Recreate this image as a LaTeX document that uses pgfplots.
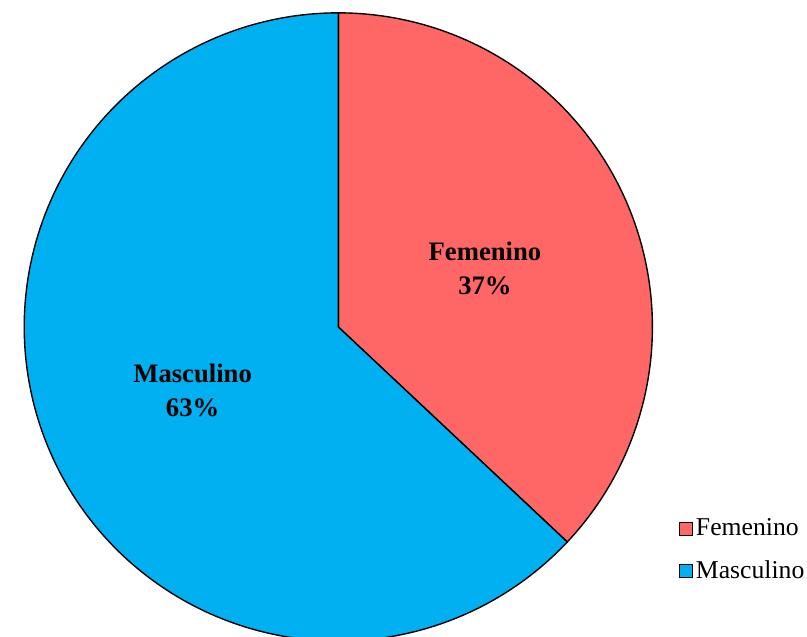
\documentclass[border=0pt]{standalone}
\usepackage{fontspec}
\setmainfont{Liberation Serif}
\usepackage{pgfplots}
\usepackage{pgfplotstable}
\pgfplotsset{compat=1.18}
\definecolor{femColor}{RGB}{255,102,102}
\definecolor{masColor}{RGB}{0,176,240}

% shares in percent
\pgfplotstableread{
label     share
Femenino  37
Masculino 63
}\sharetable

\begin{document}
\pgfplotstablegetelem{0}{share}\of\sharetable \let\fem\pgfplotsretval
\pgfplotstablegetelem{1}{share}\of\sharetable \let\mas\pgfplotsretval
\pgfmathsetmacro{\cut}{90-3.6*\fem}
\def\cx{332.5}\def\cy{313}\def\R{318}
\begin{tikzpicture}
\begin{axis}[
  at={(0,0)}, anchor=origin,
  scale only axis, width=403.5pt, height=322pt,
  xmin=0, xmax=807, ymin=0, ymax=644, enlargelimits=false,
  hide axis, clip=true,
  legend image code/.code={\draw[#1] (0pt,-3.2pt) rectangle (6.4pt,3.2pt);},
  legend style={at={(axis cs:671,87)}, anchor=west, draw=none, fill=none,
    font=\fontsize{13}{14}\selectfont, row sep=8pt,
    nodes={inner sep=1.5pt}},
  legend cell align=left,
]
% Femenino slice
\addplot[fill=femColor, draw=black, line width=0.7pt, domain=\cut:90, samples=120]
  ({\cx+\R*cos(x)},{\cy+\R*sin(x)}) -- (axis cs:\cx,\cy) -- cycle;
\addlegendentry{Femenino}
% Masculino slice
\addplot[fill=masColor, draw=black, line width=0.7pt, domain=90:\cut+360, samples=200]
  ({\cx+\R*cos(x)},{\cy+\R*sin(x)}) -- (axis cs:\cx,\cy) -- cycle;
\addlegendentry{Masculino}
\node[align=center, font=\fontsize{13.5}{17}\bfseries\selectfont] at (axis cs:481,372) {Femenino\\\fem\%};
\node[align=center, font=\fontsize{13.5}{17}\bfseries\selectfont] at (axis cs:185,249) {Masculino\\\mas\%};
\end{axis}
\pgfresetboundingbox
\useasboundingbox (0,0) rectangle (403.5pt,322pt);
\end{tikzpicture}
\end{document}
